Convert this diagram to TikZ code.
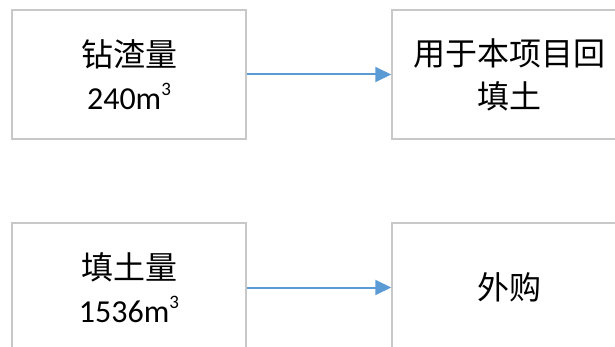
\documentclass[tikz,border=0pt]{standalone}
\usepackage{fontspec}
\setmainfont{Carlito}
\newfontfamily\cjk{Noto Sans CJK SC}
\usepackage{tikz}
\usetikzlibrary{arrows.meta}

\definecolor{boxgray}{HTML}{C8C8C8}
\definecolor{arrowblue}{HTML}{5B9BD5}

\newcommand{\cubic}{\raisebox{14pt}{\fontsize{19}{19}\selectfont 3}}

\tikzset{
	stepbox/.style={draw=boxgray, line width=1.5pt, minimum width=234pt, minimum height=129pt,
		align=center, inner sep=0pt, font=\fontsize{32}{43}\selectfont},
	flow/.style={draw=arrowblue, line width=2pt, -{Triangle[length=16pt,width=15pt]}}
}

\begin{document}
\begin{tikzpicture}[x=1pt,y=-1pt]
			\clip (0,0) rectangle (615,347);
			\node [stepbox] (slag) at (129,74.5) {{\cjk 钻渣量}\\240m\cubic};
			\node [stepbox] (reuse) at (509,74.5) {{\cjk 用于本项目回}\\{\cjk 填土}};
			\node [stepbox] (fill) at (129,287.5) {{\cjk 填土量}\\1536m\cubic};
			\node [stepbox] (buy) at (509,287.5) {\cjk 外购};
			\draw [flow] (slag.east) -- (reuse.west);
			\draw [flow] (fill.east) -- (buy.west);
		\end{tikzpicture}
\end{document}
